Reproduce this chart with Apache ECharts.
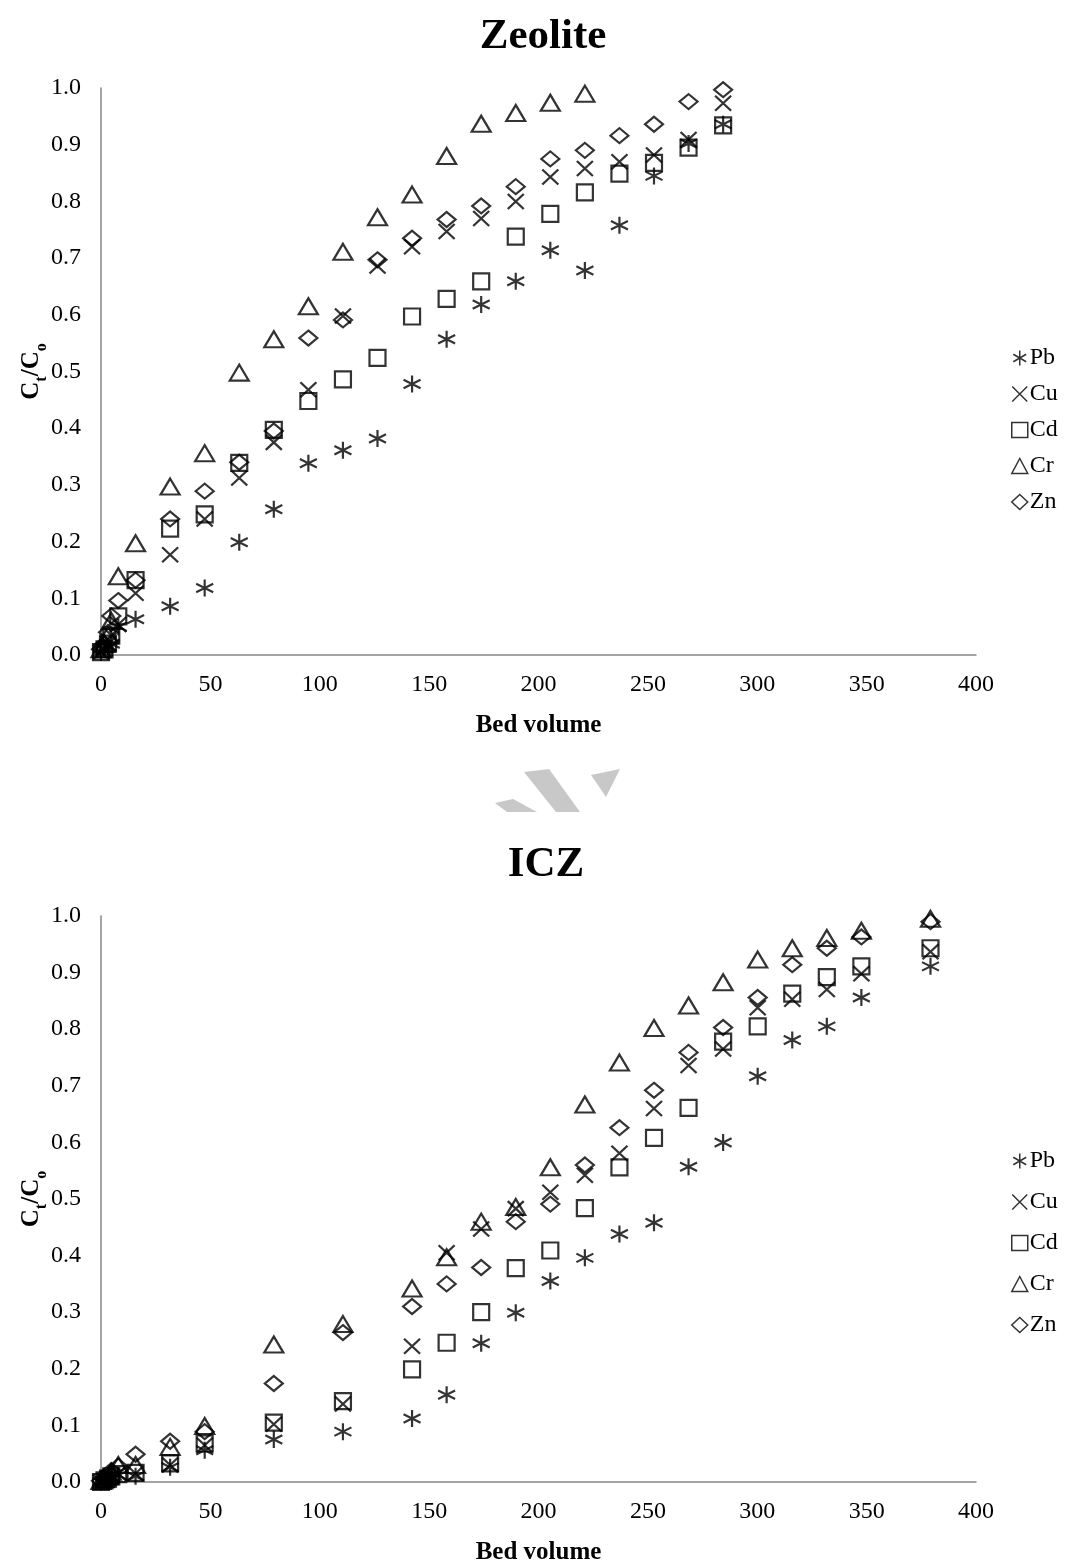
<!DOCTYPE html>
<html>
<head>
<meta charset="utf-8">
<script src="https://cdn.jsdelivr.net/npm/echarts@6/dist/echarts.min.js"></script>
<style>
html,body{margin:0;padding:0;background:#fff;}
#c{width:1086px;height:1566px;}
</style>
</head>
<body>
<div id="c"></div>
<script>
// ---- Data ----
const metals = ['Pb', 'Cu', 'Cd', 'Cr', 'Zn'];

// Zeolite (top chart): bed volumes
const bvZeolite = [0, 1.6, 3.2, 4.7, 7.9, 15.8, 31.6, 47.4, 63.2, 79, 94.8, 110.6, 126.4, 142.2, 158, 173.8, 189.6, 205.4, 221.2, 237, 252.8, 268.6, 284.4];
const zeoPb = [0.005, 0.01, 0.015, 0.02, 0.05, 0.063, 0.086, 0.118, 0.199, 0.257, 0.338, 0.361, 0.382, 0.478, 0.557, 0.618, 0.659, 0.714, 0.678, 0.758, 0.845, 0.902, 0.936];
const zeoCu = [0.005, 0.01, 0.02, 0.035, 0.054, 0.109, 0.177, 0.24, 0.312, 0.375, 0.468, 0.598, 0.686, 0.72, 0.747, 0.77, 0.80, 0.843, 0.858, 0.870, 0.882, 0.909, 0.973];
const zeoCd = [0.005, 0.01, 0.02, 0.034, 0.068, 0.132, 0.223, 0.248, 0.339, 0.397, 0.448, 0.486, 0.524, 0.597, 0.628, 0.659, 0.738, 0.778, 0.816, 0.849, 0.868, 0.895, 0.934];
const zeoCr = [0.01, 0.02, 0.035, 0.06, 0.139, 0.197, 0.297, 0.356, 0.498, 0.557, 0.615, 0.711, 0.772, 0.812, 0.88, 0.937, 0.956, 0.974, 0.99];
const zeoZn = [0.01, 0.02, 0.04, 0.069, 0.096, 0.132, 0.24, 0.289, 0.34, 0.395, 0.559, 0.591, 0.697, 0.735, 0.768, 0.792, 0.826, 0.875, 0.89, 0.916, 0.936, 0.976, 0.997];

// ICZ (bottom chart): bed volumes
const bvICZ = [0, 1.6, 3.2, 4.7, 7.9, 15.8, 31.6, 47.4, 79, 110.6, 142.2, 158, 173.8, 189.6, 205.4, 221.2, 237, 252.8, 268.6, 284.4, 300.2, 316, 331.8, 347.6, 379.2];
const iczPb = [0, 0.002, 0.005, 0.008, 0.012, 0.01, 0.026, 0.056, 0.075, 0.089, 0.112, 0.154, 0.245, 0.299, 0.355, 0.396, 0.438, 0.458, 0.557, 0.600, 0.717, 0.781, 0.805, 0.856, 0.911];
const iczCu = [0, 0.003, 0.006, 0.01, 0.015, 0.015, 0.03, 0.065, 0.102, 0.138, 0.24, 0.405, 0.447, 0.483, 0.512, 0.542, 0.581, 0.66, 0.736, 0.765, 0.838, 0.853, 0.87, 0.898, 0.937];
const iczCd = [0, 0.003, 0.006, 0.01, 0.014, 0.016, 0.033, 0.068, 0.105, 0.143, 0.199, 0.246, 0.30, 0.378, 0.409, 0.484, 0.556, 0.608, 0.661, 0.778, 0.805, 0.863, 0.892, 0.911, 0.943];
const iczCr = [0.002, 0.005, 0.01, 0.018, 0.03, 0.03, 0.062, 0.099, 0.243, 0.279, 0.342, 0.397, 0.46, 0.486, 0.556, 0.667, 0.741, 0.802, 0.842, 0.883, 0.923, 0.943, 0.961, 0.974, 0.995];
const iczZn = [0.002, 0.005, 0.01, 0.02, 0.028, 0.049, 0.072, 0.089, 0.174, 0.264, 0.31, 0.35, 0.379, 0.46, 0.491, 0.56, 0.626, 0.692, 0.759, 0.803, 0.856, 0.914, 0.943, 0.963, 0.99];

const xTicks = [0, 50, 100, 150, 200, 250, 300, 350, 400];
const yTicks = [0, 0.1, 0.2, 0.3, 0.4, 0.5, 0.6, 0.7, 0.8, 0.9, 1.0];

// ---- Styling ----
const FONT = '"Liberation Serif", "Times New Roman", serif';
const symbols = {
  Pb: {symbol: 'path://M5,0L5,10M0.7,2.5L9.3,7.5M0.7,7.5L9.3,2.5', size: [17, 17]},
  Cu: {symbol: 'path://M0,0L10,10M10,0L0,10', size: [16, 15]},
  Cd: {symbol: 'rect', size: [16, 16]},
  Cr: {symbol: 'triangle', size: [19, 16]},
  Zn: {symbol: 'diamond', size: [18, 15]}
};
const markerStyle = {color: 'rgba(0,0,0,0)', borderColor: '#000', borderWidth: 2.2};

function zip(xs, ys) { return ys.map((y, i) => [xs[i], y]); }

const topSets = {Pb: zeoPb, Cu: zeoCu, Cd: zeoCd, Cr: zeoCr, Zn: zeoZn};
const botSets = {Pb: iczPb, Cu: iczCu, Cd: iczCd, Cr: iczCr, Zn: iczZn};

const series = [];
metals.forEach(m => {
  series.push({
    name: m, type: 'scatter', xAxisIndex: 0, yAxisIndex: 0,
    symbol: symbols[m].symbol, symbolSize: symbols[m].size,
    itemStyle: markerStyle, data: zip(bvZeolite, topSets[m]), z: 3
  });
});
metals.forEach(m => {
  series.push({
    name: m, type: 'scatter', xAxisIndex: 1, yAxisIndex: 1,
    symbol: symbols[m].symbol, symbolSize: symbols[m].size,
    itemStyle: markerStyle, data: zip(bvICZ, botSets[m]), z: 3
  });
});

function legendData() {
  return metals.map(m => ({
    name: m,
    icon: symbols[m].symbol,
    itemStyle: {color: 'rgba(0,0,0,0)', borderColor: '#000', borderWidth: 1.5}
  }));
}

function xAxis(gridIndex) {
  return {
    type: 'value', gridIndex, min: xTicks[0], max: xTicks[xTicks.length - 1], interval: 50,
    axisLine: {show: true, lineStyle: {color: '#868686', width: 1.5}},
    axisTick: {show: false}, splitLine: {show: false},
    axisLabel: {color: '#000', fontFamily: FONT, fontSize: 24, margin: 18},
    name: 'Bed volume', nameLocation: 'middle', nameGap: 58, nameMoveOverlap: false,
    nameTextStyle: {color: '#000', fontFamily: FONT, fontSize: 25, fontWeight: 'bold'}
  };
}
function yAxis(gridIndex) {
  return {
    type: 'value', gridIndex, min: yTicks[0], max: yTicks[yTicks.length - 1], interval: 0.1,
    axisLine: {show: true, lineStyle: {color: '#868686', width: 1.5}},
    axisTick: {show: false}, splitLine: {show: false},
    axisLabel: {color: '#000', fontFamily: FONT, fontSize: 24, margin: 20, formatter: v => v.toFixed(1)},
    name: '{b|C}{s|t}{b|/C}{s|o}', nameLocation: 'middle', nameRotate: 90, nameGap: 57, nameMoveOverlap: false,
    nameTextStyle: {
      color: '#000', fontFamily: FONT, fontSize: 25, fontWeight: 'bold',
      rich: {
        b: {fontFamily: FONT, fontSize: 25, fontWeight: 'bold', color: '#000'},
        s: {fontFamily: FONT, fontSize: 16, fontWeight: 'bold', color: '#000', verticalAlign: 'bottom', padding: [0, 0, -6, 0]}
      }
    }
  };
}

const legendBase = {
  orient: 'vertical', left: 1006, itemWidth: 16, itemHeight: 15,
  textStyle: {color: '#000', fontFamily: FONT, fontSize: 24, padding: [0, 0, 0, -3]},
  selectedMode: false
};

const chart = echarts.init(document.getElementById('c'), null, {renderer: 'canvas'});
chart.setOption({
  backgroundColor: '#fff',
  animation: false,
  title: [
    {text: 'Zeolite', left: 538, top: 10, textAlign: 'center',
     textStyle: {fontFamily: FONT, fontSize: 43, fontWeight: 'bold', color: '#000'}},
    {text: 'ICZ', left: 541, top: 838, textAlign: 'center',
     textStyle: {fontFamily: FONT, fontSize: 43, fontWeight: 'bold', color: '#000'}}
  ],
  grid: [
    {left: 101, right: 110, top: 88, height: 567},
    {left: 101, right: 110, top: 916, height: 570}
  ],
  xAxis: [xAxis(0), xAxis(1)],
  yAxis: [yAxis(0), yAxis(1)],
  legend: [
    Object.assign({}, legendBase, {top: 341, itemGap: 12, data: legendData()}),
    Object.assign({}, legendBase, {top: 1144, itemGap: 17, data: legendData()})
  ],
  graphic: [
    {type: 'polygon', shape: {points: [[495, 803], [513, 799], [537, 812], [507, 812]]}, style: {fill: '#c8c8c8'}},
    {type: 'polygon', shape: {points: [[524, 772], [549, 769], [580, 812], [556, 812]]}, style: {fill: '#c8c8c8'}},
    {type: 'polygon', shape: {points: [[591, 775], [620, 769], [606, 797]]}, style: {fill: '#c8c8c8'}}
  ],
  series
});
</script>
</body>
</html>
